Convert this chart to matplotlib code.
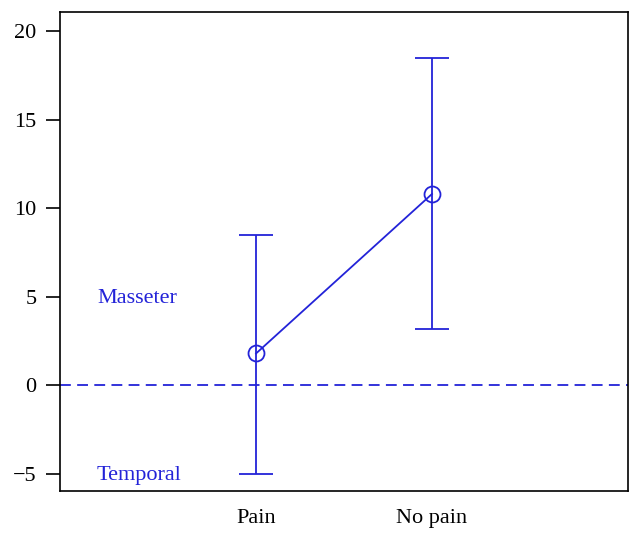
import matplotlib
matplotlib.use("Agg")
import matplotlib.pyplot as plt

categories = ["Pain", "No pain"]
means = [1.8, 10.8]
lower = [-5.0, 3.2]
upper = [8.5, 18.5]
yticks = [-5, 0, 5, 10, 15, 20]

blue = "#2323d8"
plt.rcParams['font.family'] = ['Liberation Serif', 'DejaVu Serif']

fig = plt.figure(figsize=(6.42, 5.42), dpi=100)
ax = fig.add_axes([60/642, 1 - 491/542, (628-60)/642, (491-12)/542])

x = [1, 2]
yerr = [[m - l for m, l in zip(means, lower)], [u - m for m, u in zip(means, upper)]]
ax.errorbar(x, means, yerr=yerr, color=blue, lw=1.3, capsize=12, capthick=1.3,
            marker='o', ms=11.5, mfc='none', mec=blue, mew=1.3)
ax.axhline(0, color=blue, lw=1.3, ls=(0, (6, 3.5)))

ax.text(0.096, 4.9, "Masseter", color=blue, fontsize=16, va='center', ha='left')
ax.text(0.096, -5.1, "Temporal", color=blue, fontsize=16, va='center', ha='left')

ax.set_xlim(-0.114, 3.114)
ax.set_ylim(-5.96, 21.07)
ax.set_yticks(yticks)
ax.set_yticklabels([str(t).replace('-', '\u2212') for t in yticks])
ax.set_xticks(x)
ax.set_xticklabels(categories)
ax.tick_params(axis='x', length=0, pad=13, labelsize=16)
ax.tick_params(axis='y', length=10, width=1.2, pad=7, labelsize=16)
for s in ax.spines.values():
    s.set_linewidth(1.2)

fig.savefig("out.png", dpi=100)
